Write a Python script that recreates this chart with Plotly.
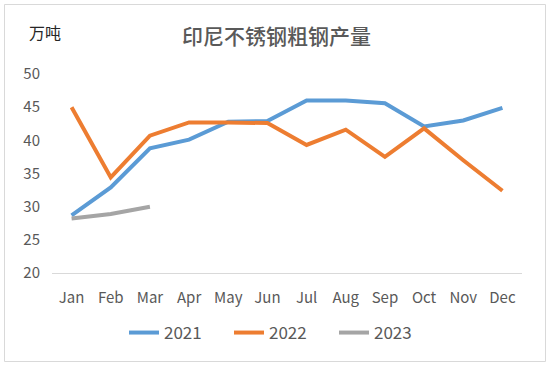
import plotly.graph_objects as go

months = ["Jan", "Feb", "Mar", "Apr", "May", "Jun", "Jul", "Aug", "Sep", "Oct", "Nov", "Dec"]
y2021 = [28.7, 32.9, 38.8, 40.1, 42.8, 42.9, 46.0, 46.0, 45.6, 42.1, 43.0, 44.9]
y2022 = [45.0, 34.4, 40.7, 42.7, 42.7, 42.6, 39.3, 41.6, 37.5, 41.8, 37.0, 32.4]
y2023 = [28.2, 28.9, 30.0]
yticks = [20, 25, 30, 35, 40, 45, 50]

fig = go.Figure()
fig.add_trace(go.Scatter(x=months, y=y2021, mode="lines", name="2021",
                         line=dict(color="#5B9BD5", width=4)))
fig.add_trace(go.Scatter(x=months, y=y2022, mode="lines", name="2022",
                         line=dict(color="#ED7D31", width=4)))
fig.add_trace(go.Scatter(x=months[:len(y2023)], y=y2023, mode="lines", name="2023",
                         line=dict(color="#A5A5A5", width=4)))

L, R, T, B = 52, 522, 74, 273
W, H = 550, 366
pw, ph = R - L, B - T

def px(x):
    return (x - L) / pw

def py(y):
    return (B - y) / ph

fig.update_layout(
    width=W, height=H,
    margin=dict(l=L, r=W - R, t=T, b=H - B, pad=0),
    paper_bgcolor="white", plot_bgcolor="white",
    font=dict(family="Noto Sans CJK SC, Liberation Sans, sans-serif", color="#595959", size=15),
    showlegend=True,
    legend=dict(orientation="h", x=px(124), xanchor="left", y=py(333), yanchor="middle",
                font=dict(size=17, color="#595959"), tracegroupgap=0,
                entrywidth=60, entrywidthmode="pixels"),
    xaxis=dict(type="category", range=[-0.5, 11.5], showgrid=False, showline=True,
               linecolor="#D9D9D9", linewidth=1, ticks="", tickfont=dict(size=15, color="#595959"),
               ticklabelstandoff=11, fixedrange=True),
    yaxis=dict(range=[20, 50], tickvals=yticks, showgrid=False, showline=False, zeroline=False,
               ticks="", tickfont=dict(size=15, color="#595959"), ticklabelstandoff=11,
               fixedrange=True),
    annotations=[
        dict(text="印尼不锈钢粗钢产量", xref="paper", yref="paper", x=px(276), y=py(35),
             xanchor="center", yanchor="middle", showarrow=False,
             font=dict(size=21, color="#595959", weight=500)),
        dict(text="万吨", xref="paper", yref="paper", x=px(45), y=py(32),
             xanchor="center", yanchor="middle", showarrow=False,
             font=dict(size=16, color="#262626")),
    ],
    shapes=[dict(type="rect", xref="paper", yref="paper", x0=px(4.5), x1=px(545.5),
                 y0=py(361.5), y1=py(4.5), line=dict(color="#D9D9D9", width=1))],
)

fig.write_html("out.html", config={"displayModeBar": False},
               post_script="document.body.style.margin='0';document.body.style.overflow='hidden';")
